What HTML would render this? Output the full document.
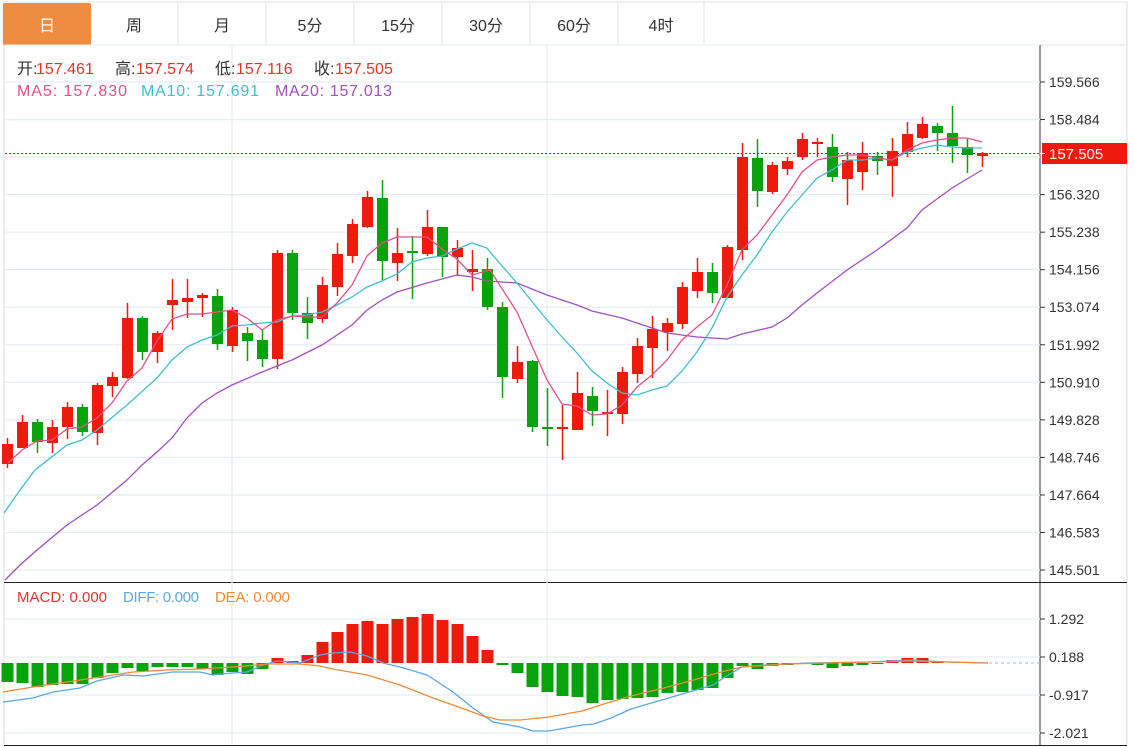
<!DOCTYPE html>
<html><head><meta charset="utf-8"><style>
body{margin:0;background:#fff;width:1135px;height:747px;overflow:hidden;font-family:"Liberation Sans","Noto Sans CJK SC",sans-serif}
svg{position:absolute;left:0;top:0}
</style></head><body>
<svg id="s" width="1135" height="747" xmlns="http://www.w3.org/2000/svg" font-family="Liberation Sans, Noto Sans CJK SC, sans-serif"></svg>
<script>
var s='';
var tabs=['日','周','月','5分','15分','30分','60分','4时'];
var tw=[0,90,178,266,354,442,530,618,704];
s+='<rect x="3" y="2" width="1124" height="43" fill="#fff" stroke="#e3e3e3"/>';
for(var i=0;i<8;i++){var x0=tw[i],x1=tw[i+1];
 if(i==0)s+='<rect x="3" y="3" width="88" height="42" rx="2" fill="#f08c42"/>';
 else s+='<line x1="'+x1+'" y1="2" x2="'+x1+'" y2="45" stroke="#e3e3e3"/>';
 s+='<text x="'+((x0+x1)/2+(i==0?2:0))+'" y="31" font-size="16" text-anchor="middle" fill="'+(i==0?'#fff':'#333')+'">'+tabs[i]+'</text>';}
s+='<line x1="4" y1="45" x2="4" y2="745" stroke="#ddd"/>';
s+='<line x1="1127" y1="2" x2="1127" y2="745" stroke="#ddd"/>';
s+='<line x1="1040" y1="45" x2="1040" y2="745" stroke="#333"/>';
s+='<line x1="4" y1="582.5" x2="1127" y2="582.5" stroke="#222"/>';
s+='<line x1="4" y1="745.5" x2="1127" y2="745.5" stroke="#222"/>';
var pl=['159.566','158.484','157.402','156.320','155.238','154.156','153.074','151.992','150.910','149.828','148.746','147.664','146.583','145.501'];
for(var k=0;k<14;k++){var y=82+k*37.54;
 s+='<line x1="5" y1="'+y+'" x2="1040" y2="'+y+'" stroke="#e6edf2" stroke-width="1.3"/>';
 if(k!=2){s+='<line x1="1040" y1="'+y+'" x2="1045" y2="'+y+'" stroke="#333"/><text x="1049" y="'+(y+5)+'" font-size="14" fill="#333">'+pl[k]+'</text>';}}
[619,657,695,733].forEach(function(y,j){s+='<line x1="5" y1="'+y+'" x2="1040" y2="'+y+'" stroke="#e6edf2" stroke-width="1.3"/><line x1="1040" y1="'+y+'" x2="1045" y2="'+y+'" stroke="#333"/><text x="1049" y="'+(y+5)+'" font-size="14" fill="#333">'+['1.292','0.188','-0.917','-2.021'][j]+'</text>';});
[232,547].forEach(function(x){s+='<line x1="'+x+'" y1="45" x2="'+x+'" y2="745" stroke="#e6edf2" stroke-width="1.3"/>';});
s+='<line x1="5" y1="45" x2="1040" y2="45" stroke="#e6edf2"/>';
var C=[[444,464,438,468,1],[422,448,415,448,1],[422,442,419,453,0],[427,443,420,453,1],[407,427,402,439,1],[407,432,404,436,0],[385,433,383,445,1],[377,386,372,397,1],[318,378,303,379,1],[318,352,316,360,0],[333,352,331,363,1],[300,305,279,330,1],[298,302,279,318,1],[295,298,293,317,1],[296,344,289,350,0],[310,346,307,352,1],[333,341,327,361,0],[340,359,329,367,0],[253,359,250,369,1],[253,313,250,320,0],[313,323,297,339,0],[285,319,277,323,1],[254,287,243,296,1],[224,256,219,263,1],[197,227,191,228,1],[198,261,180,280,0],[253,263,228,281,1],[251,253,236,299,0],[227,254,210,256,1],[227,257,227,277,0],[248,257,240,276,1],[269,272,250,291,1],[269,307,258,310,0],[307,377,302,398,0],[362,379,346,383,1],[361,427,360,432,0],[427,429,388,446,0],[427,429,405,460,1],[393,430,372,430,1],[396,411,387,426,0],[412,414,390,436,1],[372,414,367,424,1],[346,374,338,383,1],[329,348,316,378,1],[323,332,318,351,1],[287,324,282,329,1],[272,291,258,298,1],[272,293,263,303,0],[247,298,245,298,1],[157,250,143,260,1],[158,191,139,207,0],[165,192,162,194,1],[161,169,157,175,1],[139,157,133,160,1],[142,144,138,157,1],[147,177,134,182,0],[160,179,152,205,1],[153,172,142,190,1],[156,161,152,175,0],[151,166,138,197,1],[134,152,122,157,1],[124,138,117,139,1],[126,133,123,151,0],[133,146,106,163,0],[147,155,139,173,0],[153,156,152,167,1]];
var R='#ee1a0b',G='#08a20c';
function cx(i){return 7.5+15*i;}
C.forEach(function(c,i){var x=cx(i),col=c[4]?R:G;var h=Math.max(c[1]-c[0],2);
 s+='<line x1="'+x+'" y1="'+c[2]+'" x2="'+x+'" y2="'+c[3]+'" stroke="'+col+'" stroke-width="1.5"/>';
 s+='<rect x="'+(x-5.5)+'" y="'+c[0]+'" width="11" height="'+h+'" fill="'+col+'"/>';});
function pl_(pts,col){return '<polyline fill="none" stroke="'+col+'" stroke-width="1.3" points="'+pts+'"/>';}
var ma5="8,463 22,450 37,441 52,440 67,429 82,427 97,418 112,403 127,381 142,368 157,341 172,319 187,314 202,314 217,312 232,310 247,318 262,330 277,320 292,316 307,317 322,317 337,303 352,285 367,256 382,243 397,237 412,237 427,237 442,249 457,259 472,275 490,270 517,312 547,380 562,404 577,406 592,415 607,414 622,405 637,387 652,375 667,360 682,340 697,327 712,315 727,285 742,250 757,235 772,215 787,195 802,172 817,160 832,157 847,155 862,155 877,158 892,160 907,150 922,143 937,140 952,138 967,138 982,142";
var ma10="4,513 20,490 35,470 67,445 82,440 97,430 127,405 157,378 172,360 187,347 202,340 217,335 232,326 247,325 262,323 277,322 292,316 307,315 322,312 337,305 352,297 367,287 382,281 397,274 412,262 427,258 442,256 457,249 472,243 487,248 490,252 517,283 547,320 562,337 577,353 592,371 607,383 622,393 637,395 652,390 667,386 682,371 697,352 712,328 727,297 742,275 757,255 772,232 787,212 802,195 817,178 832,170 847,160 862,160 877,158 892,160 907,152 922,148 937,145 952,147 967,148 982,148";
var ma20="5,580 20,565 37,550 67,525 97,505 127,480 142,465 157,452 172,438 187,418 202,403 217,393 232,385 262,372 292,360 322,345 352,325 367,310 382,300 397,292 427,283 457,275 472,277 487,281 517,283 547,295 562,300 577,305 592,311 622,318 652,328 667,333 697,337 727,339 742,334 772,327 787,318 802,305 817,293 847,270 877,250 907,228 922,210 952,188 982,170";
s+=pl_(ma20,'#a24fbf')+pl_(ma10,'#3fbfd0')+pl_(ma5,'#e2508a');
s+='<line x1="5" y1="153.5" x2="1040" y2="153.5" stroke="#e81010" stroke-dasharray="2,2"/>';
s+='<rect x="1042" y="143" width="85" height="21" fill="#ee1a0b"/><line x1="1040" y1="153.5" x2="1045" y2="153.5" stroke="#fff"/><text x="1049" y="159" font-size="15" fill="#fff">157.505</text>';
var H=[682,683,687,685,684,684,678,673,668,671,667,667,667,669,675,672,674,669,658,661,655,642,632,624,621,624,619,617,614,620,624,636,650,665,673,687,692,696,697,703,700,699,698,697,693,692,690,688,678,666,669,666,665,664,665,668,666,665,664,660,658,658,661,663,663,663];
var Z=663;
H.forEach(function(h,i){var x=cx(i);if(Math.abs(h-Z)<1)return;var up=h<Z;
 s+='<rect x="'+(x-6)+'" y="'+Math.min(h,Z)+'" width="12" height="'+Math.abs(h-Z)+'" fill="'+(up?R:G)+'"/>';});
s+='<line x1="983" y1="663" x2="1040" y2="663" stroke="#7cc8e0" stroke-dasharray="3,3"/>';
var diff="3,702 33,698 53,692 80,688 97,681 123,675 143,676 173,672 200,672 213,675 220,674 233,673 247,672 263,665 277,661 300,663 320,655 333,653 350,652 367,656 383,663 400,667 427,675 453,692 473,708 493,722 520,727 533,731 549,731 582,725 594,724 611,718 631,709 672,697 713,685 725,677 742,667 766,665 807,663 869,662 910,660 947,662 988,663";
var dea="3,692 33,687 67,682 100,677 133,672 167,670 200,669 233,667 267,664 300,664 320,666 333,669 367,675 400,685 433,698 467,710 483,716 500,720 520,720 549,717 582,711 607,703 631,696 664,688 697,679 721,672 742,667 787,664 910,661 988,663";
s+=pl_(diff,'#5aa8e4')+pl_(dea,'#ef8a35');
function t(x,y,str,col,fs){return '<text x="'+x+'" y="'+y+'" font-size="'+fs+'" fill="'+col+'">'+str+'</text>';}
var red='#e2352a';
s+=t(17,74,'开:','#333',16)+t(36,74,'157.461',red,16)+t(115,74,'高:','#333',16)+t(136,74,'157.574',red,16)+t(215,74,'低:','#333',16)+t(236,74,'157.116',red,16)+t(314,74,'收:','#333',16)+t(335,74,'157.505',red,16);
s+='<text x="17" y="96" font-size="16" fill="#e2508a" textLength="110">MA5: 157.830</text>';
s+='<text x="141" y="96" font-size="16" fill="#3fbfd0" textLength="118">MA10: 157.691</text>';
s+='<text x="275" y="96" font-size="16" fill="#a24fbf" textLength="117">MA20: 157.013</text>';
s+='<text x="17" y="602" font-size="15" fill="#e2352a" textLength="90">MACD: 0.000</text>';
s+='<text x="123" y="602" font-size="15" fill="#5aa8e4" textLength="76">DIFF: 0.000</text>';
s+='<text x="215" y="602" font-size="15" fill="#ef8a35" textLength="75">DEA: 0.000</text>';
document.getElementById('s').innerHTML=s;
</script>
</body></html>
